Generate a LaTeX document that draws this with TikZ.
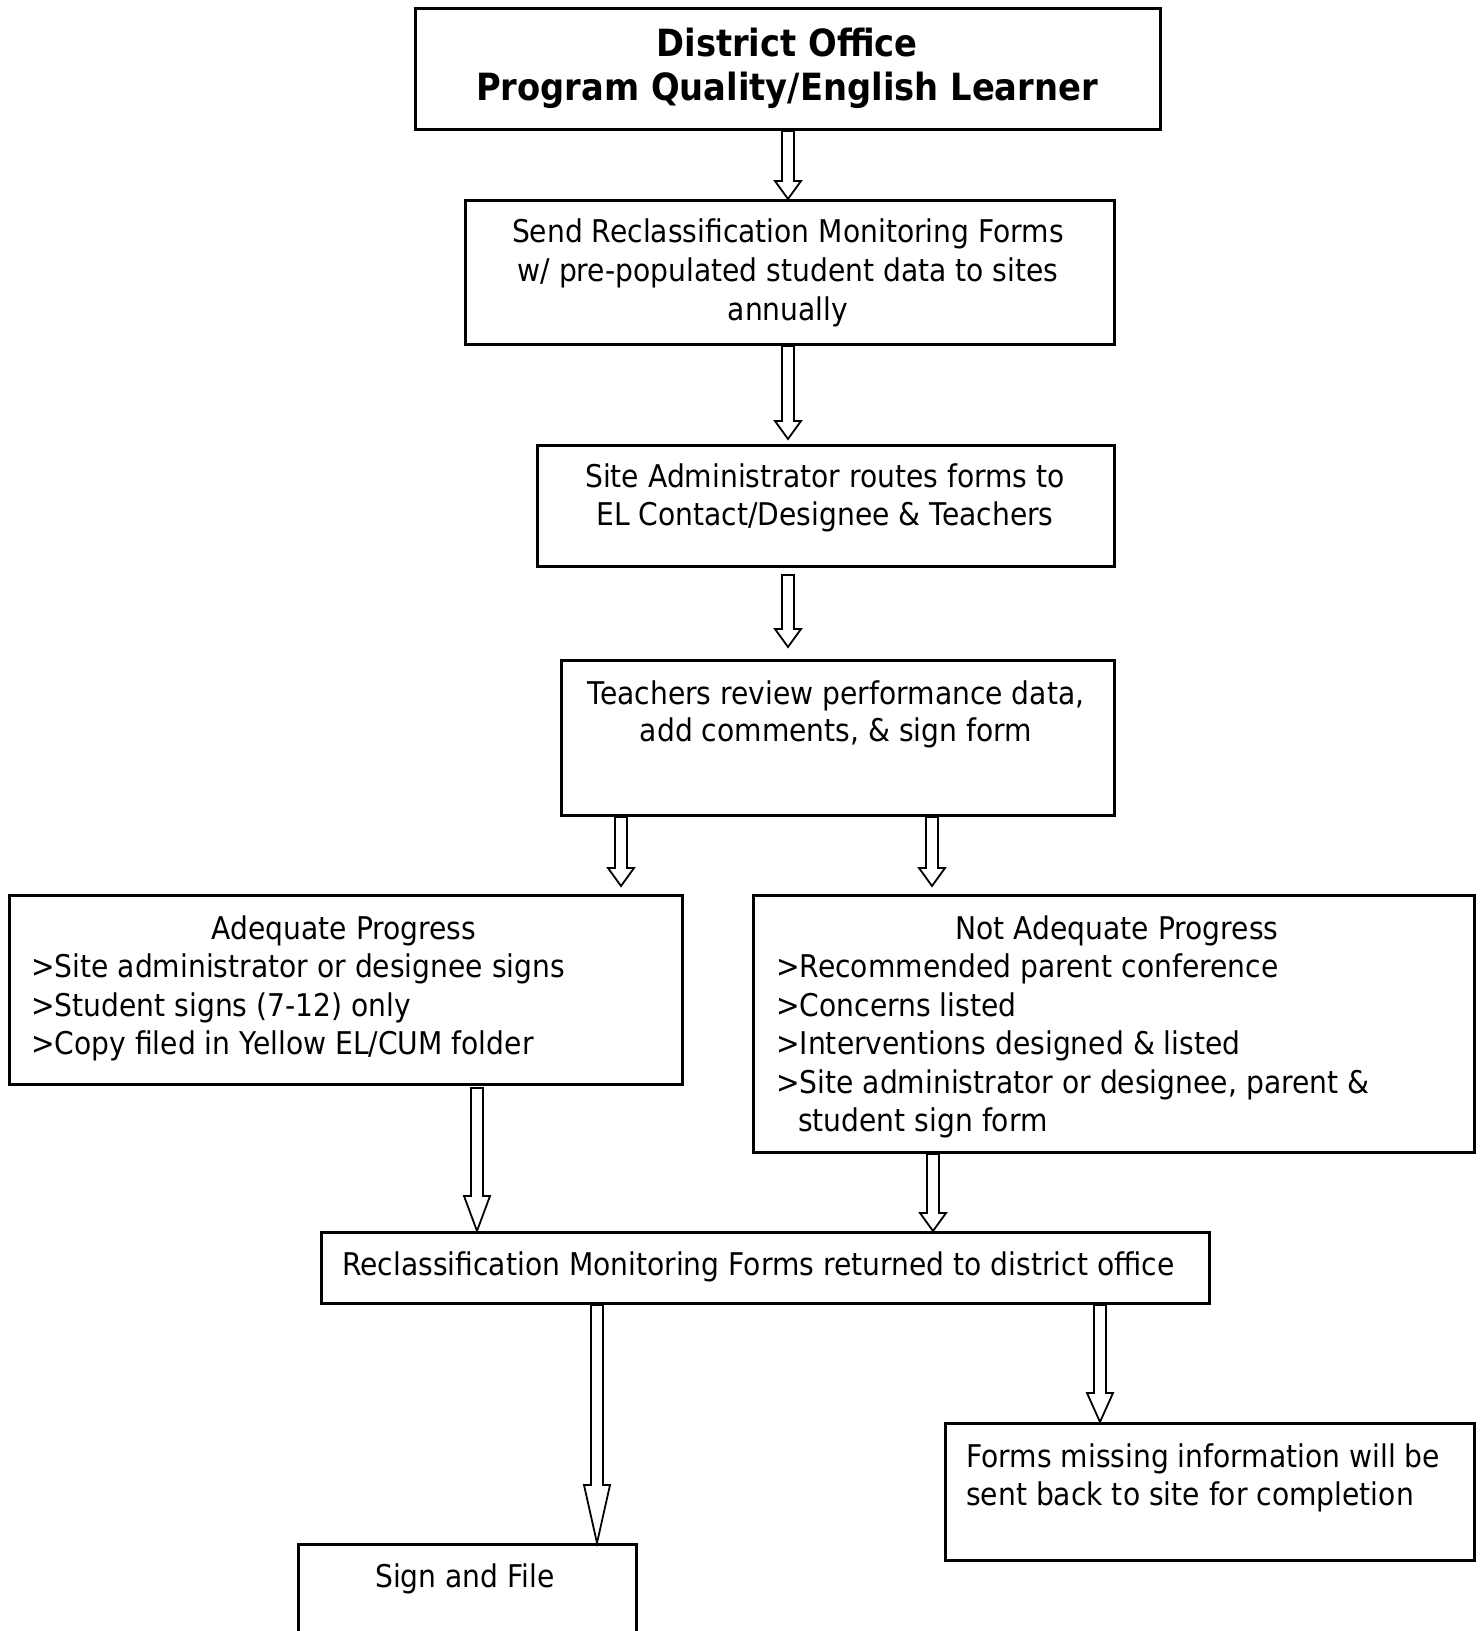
\documentclass[tikz,border=0pt]{standalone}
\usepackage{fontspec}
\setmainfont{DejaVu Sans}[FakeStretch=0.9]
\usetikzlibrary{calc}
\tikzset{
  box/.style={draw=black, line width=3pt, fill=white, inner sep=0pt, anchor=north west},
  txt/.style={inner sep=0pt, font=\fontsize{31.3}{38.7}\selectfont},
  ttl/.style={inner sep=0pt, font=\fontsize{37.5}{44}\selectfont\bfseries},
  barrow/.style={draw=black, line width=1.8pt, fill=white, line join=miter},
}
% block arrow: #1 start, #2 end (tip), #3 head length
\newcommand{\blockarr}[3]{%
  \draw[barrow] let \p1=#1, \p2=#2 in
    (\x1-6pt,\y1) -- (\x1-6pt,\y2+#3pt) -- (\x1-13pt,\y2+#3pt) -- (\x1,\y2)
    -- (\x1+13pt,\y2+#3pt) -- (\x1+6pt,\y2+#3pt) -- (\x1+6pt,\y1) -- cycle;}
\begin{document}
\begin{tikzpicture}[x=1pt,y=-1pt]
\useasboundingbox[fill=white] (0,0) rectangle (1481,1631);
% boxes
\node[box, minimum width=745pt, minimum height=121pt] (b1) at (414,7) {};
\node[box, minimum width=649pt, minimum height=144pt] (b2) at (464,199) {};
\node[box, minimum width=577pt, minimum height=121pt] (b3) at (536,444) {};
\node[box, minimum width=553pt, minimum height=155pt] (b4) at (560,659) {};
\node[box, minimum width=673pt, minimum height=189pt] (b5) at (8,894) {};
\node[box, minimum width=721pt, minimum height=257pt] (b6) at (752,894) {};
\node[box, minimum width=888pt, minimum height=71pt] (b7) at (320,1231) {};
\node[box, minimum width=529pt, minimum height=137pt] (b8) at (944,1422) {};
\node[box, minimum width=338pt, minimum height=88pt] (b9) at (297,1543) {};
% texts
\node[ttl, anchor=base] (t1a) at (787,56) {District Office};
\node[ttl, anchor=base] (t1b) at (787,100) {Program Quality/English Learner};
\node[txt, anchor=base] (t2a) at (788,242) {Send Reclassification Monitoring Forms};
\node[txt, anchor=base] (t2b) at (788,281) {w/ pre-populated student data to sites};
\node[txt, anchor=base] (t2c) at (788,320) {annually};
\node[txt, anchor=base] (t3a) at (825,487) {Site Administrator routes forms to};
\node[txt, anchor=base] (t3b) at (825,525) {EL Contact/Designee \& Teachers};
\node[txt, anchor=base] (t4a) at (836,704) {Teachers review performance data,};
\node[txt, anchor=base] (t4b) at (836,741) {add comments, \& sign form};
\node[txt, anchor=base] (t5a) at (344,939) {Adequate Progress};
\node[txt, anchor=base west] (t5b) at (31,977) {>Site administrator or designee signs};
\node[txt, anchor=base west] (t5c) at (31,1016) {>Student signs (7-12) only};
\node[txt, anchor=base west] (t5d) at (31,1054) {>Copy filed in Yellow EL/CUM folder};
\node[txt, anchor=base] (t6a) at (1117,939) {Not Adequate Progress};
\node[txt, anchor=base west] (t6b) at (776,977) {>Recommended parent conference};
\node[txt, anchor=base west] (t6c) at (776,1016) {>Concerns listed};
\node[txt, anchor=base west] (t6d) at (776,1054) {>Interventions designed \& listed};
\node[txt, anchor=base west] (t6e) at (776,1093) {>Site administrator or designee, parent \&};
\node[txt, anchor=base west] (t6f) at (798,1131) {student sign form};
\node[txt, anchor=base west] (t7) at (342,1275) {Reclassification Monitoring Forms returned to district office};
\node[txt, anchor=base west] (t8a) at (966,1467) {Forms missing information will be};
\node[txt, anchor=base west] (t8b) at (966,1505) {sent back to site for completion};
\node[txt, anchor=base] (t9) at (465,1587) {Sign and File};
% arrows
\blockarr{(b1.south -| 788,0)}{(b2.north -| 788,0)}{18}
\blockarr{(b2.south -| 788,0)}{(788,439)}{18}
\blockarr{(788,575)}{(788,647)}{18}
\blockarr{(b4.south -| 621,0)}{(621,886)}{18}
\blockarr{(b4.south -| 932,0)}{(932,886)}{18}
\blockarr{(477,1088)}{(b7.north -| 477,0)}{35}
\blockarr{(b6.south -| 933,0)}{(b7.north -| 933,0)}{18}
\blockarr{(b7.south -| 597,0)}{(b9.north -| 597,0)}{58}
\blockarr{(b7.south -| 1100,0)}{(b8.north -| 1100,0)}{29}
\end{tikzpicture}
\end{document}
